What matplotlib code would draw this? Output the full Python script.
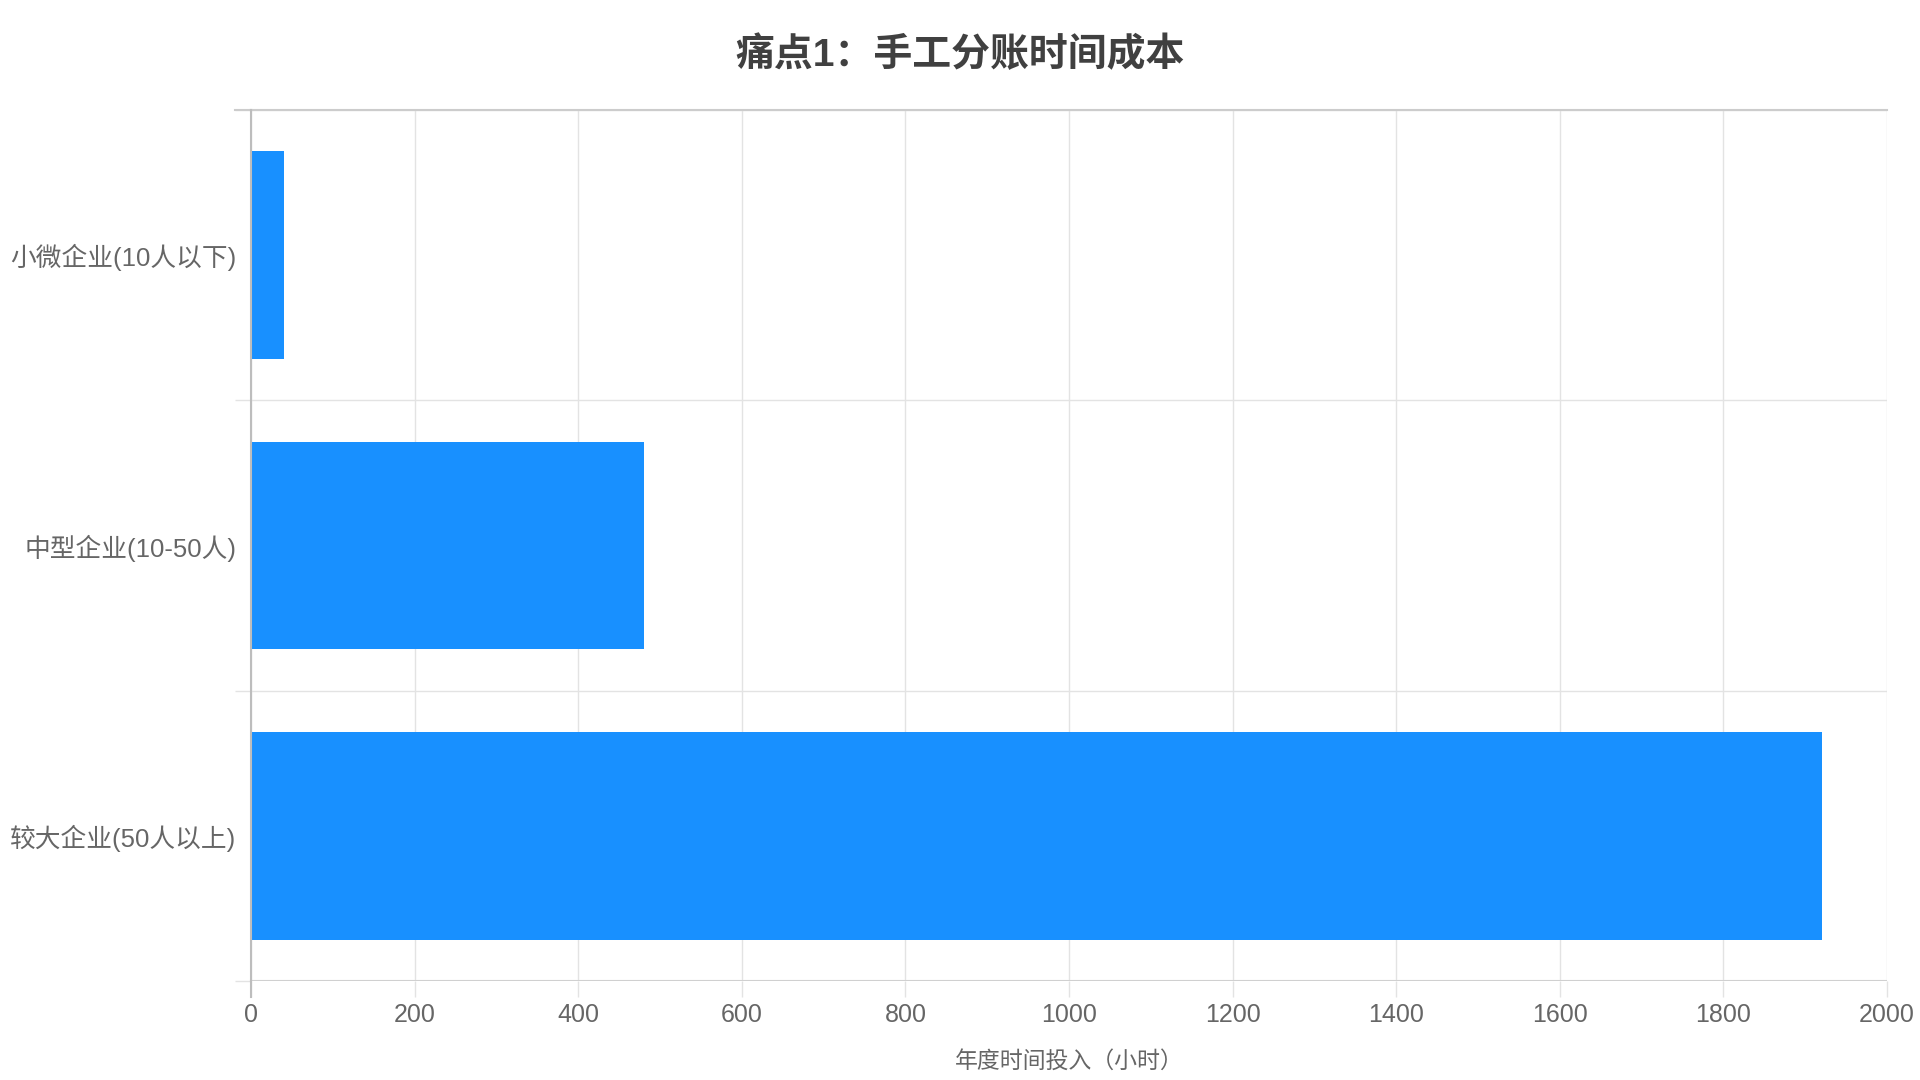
import numpy as np
import matplotlib
matplotlib.use('Agg')
import matplotlib.pyplot as plt

plt.rcParams['font.family'] = ['Liberation Sans', 'Noto Sans CJK SC', 'DejaVu Sans']

# 数据
categories = ['小微企业(10人以下)', '中型企业(10-50人)', '较大企业(50人以上)']
hours = [40, 480, 1920]
x_ticks = [0, 200, 400, 600, 800, 1000, 1200, 1400, 1600, 1800, 2000]

bar_color = '#1890FF'
grid_color = '#e3e3e3'
axis_color = '#bdbdbd'
text_color = '#666666'

fig = plt.figure(figsize=(19.2, 10.8), dpi=100)
W, H = 1920, 1080
left, right, top, bottom = 251, 1887, 110, 981
ax = fig.add_axes([left / W, 1 - bottom / H, (right - left) / W, (bottom - top) / H])

y = np.arange(len(categories))
ax.barh(y, hours, height=0.716, color=bar_color, zorder=3)

ax.set_xlim(0, 2000)
ax.set_ylim(len(categories) - 0.5, -0.5)

# x轴
ax.set_xticks(x_ticks)
ax.set_xticklabels([str(v) for v in x_ticks], fontsize=18, color=text_color)
ax.tick_params(axis='x', length=11.5, width=1, color=grid_color, pad=4)
ax.xaxis.grid(True, color=grid_color, linewidth=1, zorder=0)
ax.set_xlabel('年度时间投入（小时）', fontsize=16.5, color=text_color, labelpad=17)

# y轴
ax.set_yticks(y)
ax.set_yticklabels(categories, fontsize=18.5, color=text_color)
ax.tick_params(axis='y', which='major', length=0, pad=10.5)
bounds = np.arange(len(categories) + 1) - 0.5
ax.set_yticks(bounds, minor=True)
ax.tick_params(axis='y', which='minor', length=11.5, width=1, color=grid_color)
ax.yaxis.grid(True, which='minor', color=grid_color, linewidth=1, zorder=0)

for s in ['right', 'bottom']:
    ax.spines[s].set_visible(False)
ax.spines['top'].set_color('#cccccc')
ax.spines['top'].set_linewidth(1.5)
ax.spines['left'].set_color(axis_color)
ax.spines['left'].set_linewidth(1.5)
ax.spines['left'].set_zorder(4)
ax.axhline(len(categories) - 0.5, color='#d0d0d0', linewidth=1.5, zorder=2)

# 左轴线向下延伸
ax.plot([0, 0], [len(categories) - 0.5, len(categories) - 0.5 + 16 / (bottom - top) * 3],
        color=axis_color, linewidth=1.5, clip_on=False, zorder=4)
# 顶部线向左延伸
ax.plot([-16 / (right - left) * 2000, 0], [-0.5, -0.5], color='#cccccc',
        linewidth=1.5, clip_on=False, zorder=4)

fig.text(0.5, 1 - 55 / H, '痛点1：手工分账时间成本', ha='center', va='center',
         fontsize=28, fontweight='bold', color='#404040')

fig.savefig('out.png', dpi=100, facecolor='white')
